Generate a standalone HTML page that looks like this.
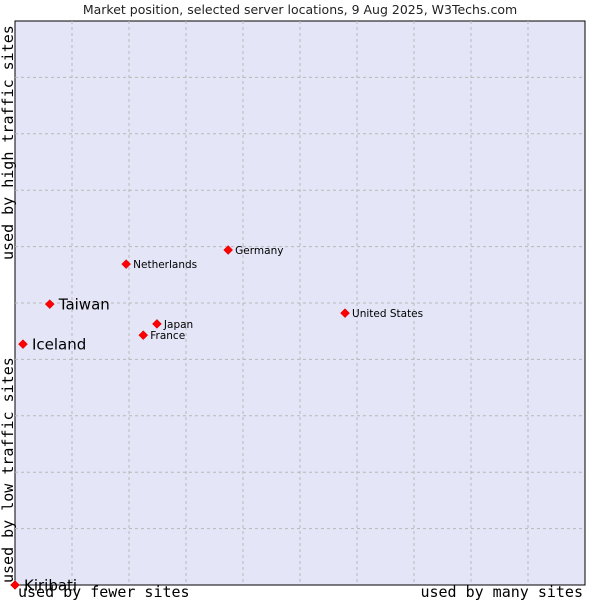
<!DOCTYPE html>
<html><head><meta charset="utf-8"><style>body{margin:0;background:#fff}svg{display:block}</style></head>
<body>
<svg width="600" height="600" xmlns="http://www.w3.org/2000/svg">
<text x="300" y="14" text-anchor="middle" font-family="DejaVu Sans, sans-serif" font-size="12.5" fill="#222">Market position, selected server locations, 9 Aug 2025, W3Techs.com</text>
<rect x="15" y="21" width="570" height="564" fill="#e4e6f8" stroke="#000" stroke-width="1"/>
<g id="grid"></g>
<g id="pts"></g>
<text x="8" y="583" transform="rotate(-90 8 583)" font-family="DejaVu Sans Mono, Liberation Mono, monospace" font-size="15" fill="#000" dy="5">used by low traffic sites</text>
<text x="8" y="260" transform="rotate(-90 8 260)" font-family="DejaVu Sans Mono, Liberation Mono, monospace" font-size="15" fill="#000" dy="5">used by high traffic sites</text>
<text x="18" y="597" font-family="DejaVu Sans Mono, Liberation Mono, monospace" font-size="15" fill="#000">used by fewer sites</text>
<text x="583" y="597" text-anchor="end" font-family="DejaVu Sans Mono, Liberation Mono, monospace" font-size="15" fill="#000">used by many sites</text>
<script>
const names=["Kiribati","Iceland","Taiwan","Netherlands","Germany","Japan","France","United States"];
const xs=[0,1.4,6.1,19.5,37.4,24.9,22.5,57.9];
const ys=[0,42.7,49.8,56.9,59.4,46.3,44.3,48.2];
const big=[1,1,1,0,0,0,0,0];
const L=15,T=21,W=570,H=564;
const sx=v=>L+v/100*W, sy=v=>T+H-v/100*H;
const NS="http://www.w3.org/2000/svg";
const g=document.getElementById('grid');
for(let i=1;i<10;i++){
 const v=document.createElementNS(NS,'line');
 
 
 v.setAttribute('x1',sx(i*10));v.setAttribute('x2',sx(i*10));v.setAttribute('y1',T);v.setAttribute('y2',T+H);
 v.setAttribute('stroke','#b8b8b8');v.setAttribute('stroke-dasharray','3,3');g.appendChild(v);
 const h=document.createElementNS(NS,'line');
 
 
 h.setAttribute('y1',sy(i*10));h.setAttribute('y2',sy(i*10));h.setAttribute('x1',L);h.setAttribute('x2',L+W);
 h.setAttribute('stroke','#b8b8b8');h.setAttribute('stroke-dasharray','3,3');g.appendChild(h);
}
const p=document.getElementById('pts');
names.forEach((n,i)=>{
 const x=sx(xs[i]),y=sy(ys[i]);
 const d=document.createElementNS(NS,'polygon');
 
 
 d.setAttribute('points',`${x},${y-4.5} ${x+4.5},${y} ${x},${y+4.5} ${x-4.5},${y}`);
 d.setAttribute('fill','#f00');d.setAttribute('stroke','#c00');d.setAttribute('stroke-width','0.5');p.appendChild(d);
 const t=document.createElementNS(NS,'text');
 
 
 t.setAttribute('x',x+(big[i]?9:7));t.setAttribute('y',y+(big[i]?5.5:4));
 t.setAttribute('font-family','DejaVu Sans, sans-serif');t.setAttribute('font-size',big[i]?'15':'10.5');
 t.setAttribute('fill','#000');t.textContent=n;p.appendChild(t);
});
</script>
</svg>
</body></html>
